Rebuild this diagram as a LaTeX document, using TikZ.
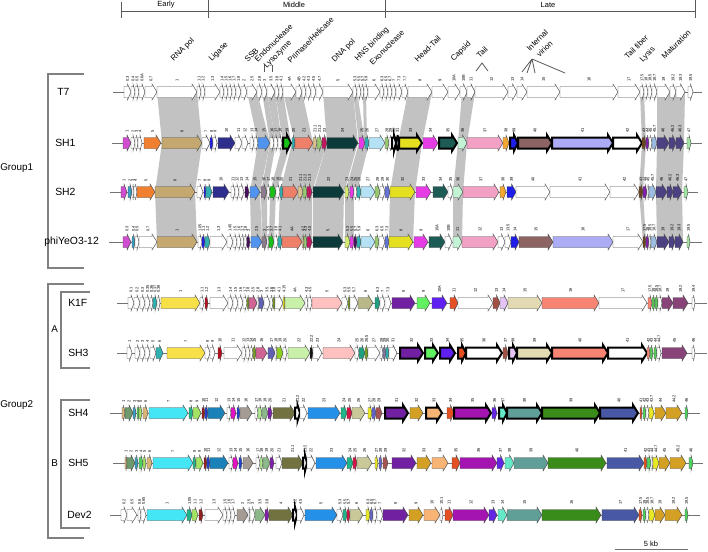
\documentclass[tikz,border=0pt]{standalone}
\usepackage{fontspec}
\setmainfont{Liberation Sans}
\definecolor{w}{HTML}{FFFFFF}
\definecolor{mg}{HTML}{D04CD0}\definecolor{tlb}{HTML}{3A9AC0}\definecolor{org}{HTML}{F08030}
\definecolor{tnn}{HTML}{C4A870}\definecolor{nav}{HTML}{2E2E8C}\definecolor{blu}{HTML}{1E1EE6}
\definecolor{cbl}{HTML}{5094F0}\definecolor{grn}{HTML}{18C018}\definecolor{tl}{HTML}{30B0B0}
\definecolor{sal}{HTML}{EE7F68}\definecolor{tn2}{HTML}{D8C090}\definecolor{lg2}{HTML}{98C870}
\definecolor{rmg}{HTML}{C01860}\definecolor{dtl}{HTML}{0C3A3A}\definecolor{mg2}{HTML}{E63CE6}
\definecolor{lbl}{HTML}{B4E2F4}\definecolor{ylw}{HTML}{E4E020}\definecolor{dgt}{HTML}{1C5C54}
\definecolor{mnt}{HTML}{C4F2D4}\definecolor{pnk}{HTML}{F2A0C4}\definecolor{or2}{HTML}{F2A830}
\definecolor{brn}{HTML}{8C6464}\definecolor{lav}{HTML}{ACACF6}\definecolor{br2}{HTML}{6A4420}
\definecolor{prp}{HTML}{8020A8}\definecolor{lb2}{HTML}{9CBCE0}\definecolor{slt}{HTML}{4C4282}
\definecolor{lgr}{HTML}{A4E4A4}\definecolor{gpu}{HTML}{8C7C8C}\definecolor{dpu}{HTML}{44105C}
\definecolor{lim}{HTML}{D4EC74}\definecolor{bl2}{HTML}{6474D4}
\definecolor{gd1}{HTML}{F8E048}\definecolor{drd}{HTML}{B41020}\definecolor{pkm}{HTML}{D06494}
\definecolor{slb}{HTML}{6060B4}\definecolor{olv}{HTML}{78A020}\definecolor{lgn}{HTML}{C8F0A8}
\definecolor{lpk}{HTML}{FFC0C0}\definecolor{olt}{HTML}{B8B888}\definecolor{tgr}{HTML}{20A080}
\definecolor{pr8}{HTML}{7020A0}\definecolor{gr2}{HTML}{60F060}\definecolor{vio}{HTML}{6020F0}
\definecolor{ord}{HTML}{E45024}\definecolor{br3}{HTML}{A05044}\definecolor{lvi}{HTML}{E4C4F4}
\definecolor{bge}{HTML}{E2DAB2}\definecolor{sl2}{HTML}{F88474}\definecolor{mav}{HTML}{884478}
\definecolor{lg3}{HTML}{90D020}\definecolor{gr3}{HTML}{58C858}\definecolor{gbl}{HTML}{7A7AA0}
\definecolor{blk}{HTML}{111111}
\definecolor{tns}{HTML}{D8B478}\definecolor{olg}{HTML}{6C9A6C}\definecolor{cyn}{HTML}{44E6F6}
\definecolor{tgg}{HTML}{20B488}\definecolor{lg4}{HTML}{A4E264}\definecolor{dr2}{HTML}{902020}
\definecolor{bu2}{HTML}{2040D0}\definecolor{mbl}{HTML}{1A82B8}\definecolor{mgs}{HTML}{E410C4}
\definecolor{gry}{HTML}{A49C94}\definecolor{sag}{HTML}{8CB88C}\definecolor{olk}{HTML}{727240}
\definecolor{dbl}{HTML}{2490E8}\definecolor{crm}{HTML}{D41444}\definecolor{khk}{HTML}{C8C898}
\definecolor{yel}{HTML}{E8E824}\definecolor{sl3}{HTML}{6464C8}\definecolor{brr}{HTML}{A45454}
\definecolor{gd2}{HTML}{D4A024}\definecolor{lor}{HTML}{F8B474}\definecolor{pmg}{HTML}{A414B0}
\definecolor{vi2}{HTML}{6424E4}\definecolor{aqu}{HTML}{64E8C8}\definecolor{tgy}{HTML}{5F9F98}
\definecolor{gn2}{HTML}{3A8C1A}\definecolor{sb2}{HTML}{4858A4}\definecolor{gn4}{HTML}{50D060}
\definecolor{lg5}{HTML}{B0E890}
\newcommand\gn[6]{%
  \pgfmathsetmacro\hd{min(5,0.5*(#2-#1))}%
  \filldraw[gene,fill=#4,#6] (#1,#3-5.5) -- ({#2-\hd},#3-5.5) -- ({#2-\hd},#3-8) -- (#2,#3) -- ({#2-\hd},#3+8) -- ({#2-\hd},#3+5.5) -- (#1,#3+5.5) -- cycle;
  \node[num] at ({(#1+#2)/2},#3-10) {#5};}
\newcommand\band[6]{\fill[bandc] (#1,#5) -- (#2,#5) -- (#4,#6) -- (#3,#6) -- cycle;}
\begin{document}
\begin{tikzpicture}[x=0.75pt,y=-0.75pt,
  gene/.style={draw=black!70,line width=0.35pt,line join=miter},
  gN/.style={},
  gB/.style={draw=black,line width=1.5pt},
  num/.style={rotate=90,anchor=west,inner sep=0pt,font=\fontsize{3}{3}\selectfont},
  track/.style={draw=black!55,line width=0.6pt},
  bandc/.style={fill=black!24},
  brk/.style={draw=black!50,line width=0.8pt},
  tick/.style={draw=black!65,line width=0.6pt},
  func/.style={rotate=45,anchor=south west,inner sep=0pt,font=\fontsize{5.9}{7}\selectfont},
  phase/.style={inner sep=0pt,font=\fontsize{5.6}{6}\selectfont},
  rowlab/.style={anchor=west,inner sep=0pt,font=\fontsize{7.8}{9}\selectfont},
  grplab/.style={anchor=west,inner sep=0pt,font=\fontsize{7.4}{9}\selectfont}]
\useasboundingbox (0,0) rectangle (708,551);
\fill[white] (0,0) rectangle (708,551);
% timeline
\draw[tick] (121,11) -- (695,11);
\draw[tick] (121,2) -- (121,18) (208,0) -- (208,18) (385,0) -- (385,18) (695,0) -- (695,18);
\node[phase] (early) at (166,5) {Early};
\node[phase] (middle) at (294,5) {Middle};
\node[phase] (late) at (548,5) {Late};
% function labels
\node[func] (f1) at (175,63) {RNA pol};
\node[func] (f2) at (213,63) {Ligase};
\node[func] (f3) at (248,63) {SSB};
\node[func] (f4) at (258,63) {Endonuclease};
\node[func] (f5) at (268,70) {Lysozyme};
\node[func] (f6) at (291,64) {Primase/Helicase};
\node[func] (f7) at (336,64) {DNA pol};
\node[func] (f8) at (359,63) {HNS binding};
\node[func] (f9) at (373,66) {Exonuclease};
\node[func] (f10) at (418,63) {Head-Tail};
\node[func] (f11) at (455,63) {Capsid};
\node[func] (f12) at (480,59) {Tail};
\node[func] (f13) at (530,52) {Internal};
\node[func] (f14) at (540,58) {virion};
\node[func] (f15) at (628,60) {Tail fiber};
\node[func] (f16) at (644,64) {Lysis};
\node[func] (f17) at (665,60) {Maturation};
\draw[tick] (264,65) -- (264,72) (272,65) -- (272,72);
\coordinate (tA) at (482,63); \coordinate (tL) at (476,71); \coordinate (tR) at (488,71);
\draw[tick] (tL) -- (tA) -- (tR);
\coordinate (iv) at (532,59);
\coordinate (i1) at (522,72); \coordinate (i2) at (527,73); \coordinate (i3) at (535,73); \coordinate (i4) at (565,73);
\draw[tick] (iv) -- (i1) (iv) -- (i2) (iv) -- (i3) (iv) -- (i4);
% brackets and row labels
\draw[brk] (84,74) -- (48,74) -- (48,268) -- (84,268);
\draw[brk] (84,284) -- (48,284) -- (48,538) -- (84,538);
\draw[brk] (90,292) -- (61,292) -- (61,368) -- (90,368);
\draw[brk] (90,400) -- (61,400) -- (61,528) -- (90,528);
\node[grplab] (g1) at (0,168) {Group1};
\node[grplab] (g2) at (0,405) {Group2};
\node[grplab] (ga) at (51,329) {A};
\node[grplab] (gbb) at (51,463) {B};
\node[rowlab] (r1) at (57,92) {T7};
\node[rowlab] (r2) at (55,143) {SH1};
\node[rowlab] (r3) at (55,192) {SH2};
\node[rowlab] (r4) at (44,242) {phiYeO3-12};
\node[rowlab] (r5) at (68,303) {K1F};
\node[rowlab] (r6) at (68,353) {SH3};
\node[rowlab] (r7) at (68,413) {SH4};
\node[rowlab] (r8) at (68,463) {SH5};
\node[rowlab] (r9) at (67,515) {Dev2};
% homology bands T7-SH1
\band{157}{197}{162}{202}{92}{143}
\band{247}{257}{258}{270}{92}{143}
\band{262}{267}{270}{276}{92}{143}
\band{267}{275}{276}{282}{92}{143}
\band{275}{283}{283}{291}{92}{143}
\band{283}{302}{295}{313}{92}{143}
\band{323}{353}{327}{358}{92}{143}
\band{353}{357}{359}{365}{92}{143}
\band{363}{366}{364}{367}{92}{143}
\band{408}{432}{398}{422}{92}{143}
\band{462}{475}{458}{467}{92}{143}
\band{640}{644}{642}{646}{92}{143}
\band{657}{685}{657}{684}{92}{143}
% SH1-SH2
\band{162}{202}{155}{195}{143}{192}
\band{258}{270}{250}{260}{143}{192}
\band{270}{276}{261}{267}{143}{192}
\band{283}{291}{270}{276}{143}{192}
\band{292}{327}{280}{312}{143}{192}
\band{327}{358}{313}{344}{143}{192}
\band{359}{369}{345}{357}{143}{192}
\band{398}{422}{390}{415}{143}{192}
\band{458}{467}{453}{463}{143}{192}
\band{642}{646}{639}{643}{143}{192}
\band{657}{684}{656}{682}{143}{192}
% SH2-phiYeO3-12
\band{155}{195}{157}{197}{192}{242}
\band{250}{260}{251}{262}{192}{242}
\band{261}{267}{262}{267}{192}{242}
\band{270}{276}{269}{274}{192}{242}
\band{280}{312}{278}{312}{192}{242}
\band{313}{344}{313}{343}{192}{242}
\band{345}{354}{345}{354}{192}{242}
\band{390}{415}{389}{413}{192}{242}
\band{453}{463}{453}{462}{192}{242}
\band{639}{643}{643}{646}{192}{242}
\band{656}{682}{657}{683}{192}{242}
% tracks
\draw[track] (113,92) -- (702,92);
\draw[track] (112,143) -- (702,143);
\draw[track] (110,192) -- (698,192);
\draw[track] (109,242) -- (702,242);
\draw[track] (117,303) -- (707,303);
\draw[track] (117,353) -- (707,353);
\draw[track] (110,413) -- (700,413);
\draw[track] (113,463) -- (703,463);
\draw[track] (110,515) -- (700,515);
% T7
\foreach \ga/\gb/\gc/\gl/\gs in {124/131/w/0.3/gN,131/135/w/0.4/gN,135/139/w/0.5/gN,139/145/w/0.6A/gN,145/157/w/0.7/gN,157/197/w/1/gN,197/201/w/1.1/gN,201/205/w/1.2/gN,205/220/w/1.3/gN,220/224/w/1.4/gN,224/228/w/1.5/gN,228/232/w/1.6/gN,232/236/w/1.7/gN,236/241/w/1.8/gN,241/247/w/2/gN,247/257/w/2.5/gN,257/262/w/2.8/gN,262/267/w/3/gN,267/275/w/3.5/gN,275/279/w/3.8/gN,279/283/w/4.1/gN,283/296/w/4A/gN,296/302/w/4B/gN,302/306/w/4.2/gN,306/311/w/4.3/gN,311/316/w/4.5/gN,316/323/w/4.7/gN,323/353/w/5/gN,353/357/w/5.3/gN,357/361/w/5.5/gN,361/364/w/5.7/gN,364/368/w/5.9/gN,368/380/w/6/gN,380/384/w/6.3/gN,384/388/w/6.5/gN,388/392/w/6.7/gN,392/396/w/7/gN,396/402/w/7.3/gN,402/408/w/7.7/gN,408/432/w/8/gN,432/448/w/9/gN,448/460/w/10A/gN,460/467/w/10B/gN,467/475/w/11/gN,475/508/w/12/gN,508/517/w/13/gN,517/527/w/14/gN,527/560/w/15/gN,560/618/w/16/gN,618/640/w/17/gN,640/644/w/17.5/gN,644/648/w/18/gN,648/652/w/18.5/gN,652/657/w/18.7/gN,657/670/w/19/gN,670/676/w/19.2/gN,676/685/w/19.3/gN,688/693/w/19.5/gN}
  {\gn{\ga}{\gb}{92}{\gc}{\gl}{\gs}}
% SH1
\foreach \ga/\gb/\gc/\gl/\gs in {123/131/mg/1/gN,131/135/w/2/gN,135/138/w/3/gN,138/142/w/4/gN,144/161/org/5/gN,162/202/tnn/6/gN,202/210/w/7/gN,210/213/blu/8/gN,213/217/w/9/gN,218/235/nav/10/gN,235/242/w/11/gN,242/248/w/12/gN,250/254/w/13/gN,254/258/w/14/gN,258/270/cbl/15/gN,270/274/w/16/gN,274/278/w/17/gN,278/282/w/18/gN,283/291/grn/19/gB,292/295/tl/20/gN,295/313/sal/21/gN,313/317/tn2/21.1/gN,317/322/lg2/21.2/gN,322/327/rmg/23/gN,327/358/dtl/24/gN,359/365/mg2/25/gN,365/369/tl/26/gN,369/385/lbl/27/gN,385/389/lg2/28/gN,389/392/w/29/gN,392/396/w/30/gB,396/399/lb2/31/gB,399/422/ylw/33/gB,423/438/mg2/34/gN,439/457/dgt/35/gB,458/467/mnt/36/gN,467/503/pnk/37/gN,503/509/or2/38/gN,510/518/blu/39/gB,518/552/brn/40/gB,552/613/lav/41/gB,613/642/w/42/gB,642/646/br2/43/gN,646/649/prp/44/gN,649/652/w/45/gN,652/657/lb2/45.7/gN,657/669/slt/46/gN,669/676/slt/46.2/gN,676/684/slt/46.3/gN,687/691/lgr/47/gN}
  {\gn{\ga}{\gb}{143}{\gc}{\gl}{\gs}}
% SH2
\foreach \ga/\gb/\gc/\gl/\gs in {121/127/mg/1/gN,128/132/tlb/2/gN,132/134/w/3/gN,134/137/w/4/gN,137/155/org/5/gN,155/195/tnn/6/gN,197/203/w/7/gN,204/206/blu/8/gN,206/212/tl/9/gN,213/229/nav/10/gN,231/235/w/11/gN,235/239/w/12/gN,239/244/w/13/gN,245/249/dpu/14/gN,250/260/cbl/15/gN,261/267/gpu/16/gN,267/270/w/17/gN,270/276/grn/18/gN,276/280/w/19/gN,280/283/tl/20/gN,283/298/sal/21/gN,298/303/tn2/21.1/gN,303/307/lg2/21.2/gN,307/312/rmg/21.3/gN,313/344/dtl/22/gN,345/349/lim/23/gN,350/354/mg2/24/gN,354/357/w/25/gN,357/361/tl/26/gN,361/375/lbl/27/gN,375/380/lg2/28/gN,380/385/w/29/gN,385/390/bl2/30/gN,390/415/ylw/32/gN,416/431/mg2/33/gN,433/448/dgt/34/gN,448/453/w/35/gN,453/463/mnt/36/gN,463/499/pnk/37/gN,500/506/or2/38/gN,507/516/blu/39/gN,516/550/w/40/gN,550/610/w/41/gN,610/639/w/42/gN,639/643/br2/43/gN,643/647/prp/44/gN,647/649/w/45/gN,649/656/lb2/45.7/gN,656/667/slt/46/gN,667/673/slt/46.2/gN,673/682/slt/46.3/gN,684/688/lgr/47/gN}
  {\gn{\ga}{\gb}{192}{\gc}{\gl}{\gs}}
% phiYeO3-12
\foreach \ga/\gb/\gc/\gl/\gs in {123/131/mg/0.3/gN,132/135/tlb/0.4/gN,135/139/w/0.5/gN,139/157/w/0.7/gN,157/197/tnn/1/gN,198/202/w/1.05/gN,202/205/blu/1.1/gN,205/210/tl/1.2/gN,210/227/w/1.3/gN,227/233/w/1.45/gN,233/237/w/1.5/gN,237/241/w/1.6/gN,241/244/w/1.7/gN,244/247/w/1.8/gN,247/250/dpu/2/gN,251/262/cbl/2.5/gN,262/267/gpu/3/gN,267/269/w/3.5/gN,269/274/grn/3.7/gN,274/278/w/3.8/gN,278/282/tl/4.1/gN,282/302/sal/4A/gN,302/304/tn2/4.2/gN,304/307/lg2/4.3/gN,307/312/rmg/4.5/gN,313/343/dtl/5/gN,345/350/lim/5.3/gN,350/354/mg2/5.5/gN,354/357/dpu/5.7/gN,357/361/tl/5.9/gN,361/375/lbl/6/gN,375/379/lg2/6.3/gN,379/385/w/6.5/gN,385/389/bl2/7.3/gN,389/413/ylw/8/gN,414/428/mg2/9/gN,429/445/dgt/10A/gN,445/452/w/10B/gN,453/462/mnt/11/gN,462/498/pnk/12/gN,498/505/w/13/gN,505/511/w/13.5/gN,511/519/blu/14/gN,519/553/brn/15/gN,553/613/lav/16/gN,613/643/w/17/gN,643/646/br2/17.5/gN,646/649/prp/18/gN,649/651/w/18.5/gN,651/657/lb2/18.7/gN,657/669/slt/19/gN,669/675/slt/19.2/gN,675/683/slt/19.3/gN,687/690/lgr/19.5/gN}
  {\gn{\ga}{\gb}{242}{\gc}{\gl}{\gs}}
% K1F
\foreach \ga/\gb/\gc/\gl/\gs in {128/134/w/0.1/gN,134/140/w/0.2/gN,140/145/w/0.3/gN,145/150/w/0.35/gN,150/153/w/0.36/gN,153/157/tl/0.37/gN,157/160/w/0.38/gN,161/200/gd1/1/gN,200/204/w/1.1/gN,205/208/drd/1.2/gN,210/228/w/1.3/gN,228/233/w/1.4/gN,233/238/w/1.5/gN,238/243/w/1.6/gN,243/247/w/1.7/gN,247/249/olv/1.8/gN,249/257/pkm/2.5/gN,257/259/w/2.8/gN,259/264/slb/3/gN,264/270/w/3.5/gN,270/273/w/3.6/gN,273/275/olv/3.8/gN,275/283/w/4.1/gN,283/285/ylw/4.15/gN,285/305/lgn/4A/gN,305/308/w/4.3/gN,308/312/w/4.5/gN,312/342/lpk/5/gN,342/348/w/5.3/gN,348/350/olv/5.5/gN,350/358/w/5.7/gN,358/373/olt/6/gN,375/380/tgr/6.3/gN,380/385/w/7/gN,385/391/w/7.3/gN,392/415/pr8/8/gN,417/430/gr2/9/gN,432/447/vio/10A/gN,450/458/ord/11/gN,458/493/w/12/gN,493/500/br3/13/gN,500/508/lvi/14/gN,508/542/bge/15/gN,542/599/sl2/16/gN,599/647/w/17/gN,648/652/sl2/17.5/gN,652/655/gr3/18/gN,655/658/gr3/18.5/gN,658/662/w/18.7/gN,662/673/mav/19/gN,673/688/mav/19.2/gN,692/695/w/19.4/gN}
  {\gn{\ga}{\gb}{303}{\gc}{\gl}{\gs}}
% SH3
\foreach \ga/\gb/\gc/\gl/\gs in {127/132/w/1/gN,135/140/w/2/gN,140/145/w/3/gN,145/150/w/4/gN,150/156/w/5/gN,156/163/tl/6/gN,167/205/gd1/7/gN,205/210/w/8/gN,210/215/w/9/gN,218/222/drd/10/gN,224/242/w/11/gN,242/246/w/12/gN,246/250/w/13/gN,250/253/w/14/gN,253/256/olv/15/gN,256/267/pkm/16/gN,268/275/slb/17/gN,275/277/w/18/gN,277/283/lg3/19/gN,283/287/w/20/gN,288/310/lgn/22/gN,310/313/blk/22.2/gN,313/322/w/23/gN,323/355/lpk/24/gN,355/359/w/25/gN,359/365/tgr/26/gN,365/368/olv/26.5/gN,368/380/w/27/gN,380/383/w/28/gN,383/386/gbl/29/gN,386/389/tl/30/gN,389/397/w/31/gN,400/423/pr8/32/gB,425/438/gr2/33/gB,440/455/vio/34/gB,458/466/ord/35/gB,466/502/w/36/gB,503/508/br3/37/gN,509/517/lvi/38/gB,517/552/bge/39/gB,552/608/sl2/40/gB,608/647/w/41/gB,647/650/sl2/42/gN,650/653/gr3/43/gN,654/657/gr3/44/gN,657/661/w/44.7/gN,662/687/mav/45/gN,692/695/w/46/gN}
  {\gn{\ga}{\gb}{353}{\gc}{\gl}{\gs}}
% SH4
\foreach \ga/\gb/\gc/\gl/\gs in {122/125/tns/1/gN,125/133/olg/2/gN,133/136/tlb/3/gN,137/139/gn4/4/gN,139/142/lg4/5/gN,143/148/tns/6/gN,149/188/cyn/7/gN,189/193/tgg/8/gN,193/201/lg4/9/gN,202/205/dr2/10/gN,205/208/bu2/11/gN,208/225/mbl/12/gN,227/231/w/13/gN,231/236/mgs/14/gN,237/240/bu2/15/gN,240/252/gry/16/gN,255/258/w/17/gN,258/262/lg5/18/gN,262/268/sag/19/gN,268/272/prp/20/gN,273/295/olk/21/gN,295/300/w/21.2/gB,300/307/w/22/gN,308/340/dbl/23/gN,341/347/tgg/24/gN,347/352/crm/25/gN,352/365/khk/26/gN,368/372/yel/27/gN,372/376/sl3/28/gN,376/382/brr/29/gN,385/408/pr8/31/gB,410/423/gd2/32/gN,426/442/lor/33/gB,447/454/ord/34/gN,454/491/pmg/35/gB,492/497/vi2/36/gN,499/507/aqu/37/gB,507/542/tgy/38/gB,542/600/gn2/39/gB,600/638/sb2/40/gB,640/642/ord/41/gN,643/646/gn4/42/gN,646/649/w/43/gN,649/654/yel/43.7/gN,655/666/gd2/44/gN,666/682/gd2/44.2/gN,685/688/gn4/46/gN}
  {\gn{\ga}{\gb}{413}{\gc}{\gl}{\gs}}
% SH5
\foreach \ga/\gb/\gc/\gl/\gs in {125/127/tns/1/gN,127/135/olg/2/gN,135/138/tlb/3/gN,139/143/gn4/4/gN,143/146/lg4/5/gN,147/152/tns/6/gN,153/193/cyn/7/gN,193/196/tgg/8/gN,196/203/lg4/9/gN,204/207/dr2/10/gN,207/210/bu2/11/gN,210/228/mbl/12/gN,229/233/w/13/gN,233/238/mgs/14/gN,239/242/bu2/15/gN,243/253/gry/16/gN,256/260/w/17/gN,260/263/lg5/18/gN,263/270/sag/19/gN,270/274/prp/20/gN,276/282/w/21/gN,282/303/olk/21.1/gN,303/307/w/21.2/gB,307/315/w/22/gN,316/347/dbl/23/gN,347/353/tgg/24/gN,353/357/crm/25/gN,357/372/khk/26/gN,375/378/yel/27/gN,379/382/sl3/28/gN,383/388/brr/29/gN,392/416/pr8/32/gN,417/431/gd2/33/gN,432/448/lor/34/gN,452/460/ord/35/gN,460/497/pmg/36/gN,497/504/vi2/37/gN,505/514/aqu/38/gN,514/548/tgy/39/gN,548/606/gn2/40/gN,607/644/sb2/41/gN,644/647/ord/42/gN,647/651/gn4/43/gN,651/653/w/44/gN,653/659/yel/44.7/gN,659/670/gd2/45/gN,670/686/gd2/45.2/gN,689/693/gn4/46/gN}
  {\gn{\ga}{\gb}{463}{\gc}{\gl}{\gs}}
% Dev2
\foreach \ga/\gb/\gc/\gl/\gs in {121/127/w/0.2/gN,127/137/w/0.5/gN,138/141/w/0.6/gN,141/146/w/0.65/gN,147/187/cyn/1/gN,187/192/tgg/1.05/gN,192/198/lg4/1.1/gN,199/203/dr2/1.2/gN,205/223/w/1.3/gN,223/227/w/1.5/gN,227/231/w/1.6/gN,231/235/w/1.7/gN,237/248/gry/2/gN,248/250/w/2.5/gN,250/255/w/3/gN,255/265/sag/3.5/gN,265/269/prp/3.8/gN,269/293/olk/4/gN,293/297/w/4.2/gB,297/304/w/4.5/gN,305/337/dbl/5/gN,337/343/w/5.3/gN,343/347/tgg/5.5/gN,347/350/crm/5.7/gN,350/363/khk/6/gN,366/370/yel/6.3/gN,370/373/sl3/6.5/gN,373/377/w/6.7/gN,377/383/w/7/gN,383/408/pr8/8/gN,409/423/gd2/9/gN,424/440/lor/10/gN,440/443/w/10.1/gN,445/453/ord/11/gN,453/489/pmg/12/gN,489/497/vi2/13/gN,498/507/aqu/14/gN,507/542/tgy/15/gN,542/601/gn2/16/gN,602/639/sb2/17/gN,639/642/ord/17.5/gN,643/646/gn4/18/gN,646/649/w/18.5/gN,649/655/yel/18.7/gN,655/665/gd2/19/gN,665/682/gd2/19.2/gN,685/688/gn4/19.5/gN}
  {\gn{\ga}{\gb}{515}{\gc}{\gl}{\gs}}
% scale bar
\draw[draw=black!55,line width=0.8pt] (615,549.5) -- (688,549.5);
\node[phase] (kb) at (651,544) {5 kb};
\end{tikzpicture}
\end{document}
